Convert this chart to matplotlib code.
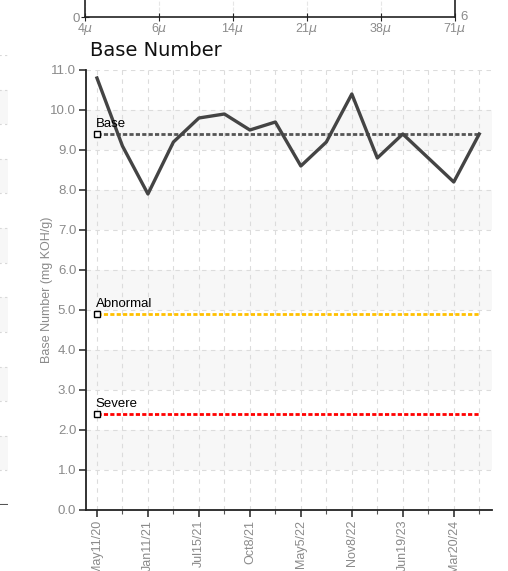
import matplotlib.pyplot as plt
import numpy as np

# data
tick_labels = ["May11/20", "Jan11/21", "Jul15/21", "Oct8/21", "May5/22", "Nov8/22", "Jun19/23", "Mar20/24"]
base_number = [10.8, 9.1, 7.9, 9.2, 9.8, 9.9, 9.5, 9.7, 8.6, 9.2, 10.4, 8.8, 9.4, 8.8, 8.2, 9.4]
limit_names = ["Base", "Abnormal", "Severe"]
limit_values = [9.4, 4.9, 2.4]
limit_colors = ["#555555", "#ffc000", "#ff0000"]
top_labels = ["4$\\mu$", "6$\\mu$", "14$\\mu$", "21$\\mu$", "38$\\mu$", "71$\\mu$"]

narrow = ["Liberation Sans", "DejaVu Sans"]
grey = "#8a8a8a"

W, H = 508, 571
fig = plt.figure(figsize=(W / 100, H / 100), dpi=100)

def box(x0, y0, x1, y1):
    return [x0 / W, 1 - y1 / H, (x1 - x0) / W, (y1 - y0) / H]

# piece of the chart above (only its bottom axis is visible)
top = fig.add_axes(box(85, -100, 455, 17))
top.set_xlim(0, len(top_labels) - 1)
top.set_ylim(0, 6)
top.set_xticks(range(len(top_labels)))
top.set_xticklabels(top_labels, color=grey, fontsize=9, family=narrow)
top.set_yticks([0])
top.set_yticklabels(["0"], color=grey, fontsize=9.5, family=narrow)
top.tick_params(axis="x", direction="inout", length=6, pad=0, color="#222222")
top.tick_params(axis="y", direction="inout", length=6, pad=1, color="#222222")
top.spines["top"].set_visible(False)
for s in ["left", "right", "bottom"]:
    top.spines[s].set_color("#222222")
    top.spines[s].set_linewidth(1.2)
top.grid(axis="x", linestyle="--", color="#e6e6e6", linewidth=0.8)
right = top.twinx()
right.set_ylim(0, 6)
right.set_yticks([0.07])
right.set_yticklabels(["6"], color=grey, fontsize=9.5, family=narrow)
right.tick_params(axis="y", direction="inout", length=0, pad=4, color="#222222")
for s in right.spines.values():
    s.set_visible(False)

# sliver of the neighbouring chart on the left
side = fig.add_axes(box(-100, 55, 8, 505))
side.set_xlim(0, 1)
side.set_ylim(0, 13)
for k in range(1, 13, 2):
    side.axhspan(k, k + 1, color="#f7f7f7", linewidth=0)
for k in range(1, 14):
    side.axhline(k, color="#d8d8d8", linestyle=(0, (2, 3)), linewidth=0.8)
side.axhline(0, color="#555555", linewidth=1.5)
side.axis("off")

# main chart
ax = fig.add_axes(box(86, 70, 492, 510))
x = np.arange(len(base_number))
ax.set_xlim(-0.43, len(base_number) - 0.5)
ax.set_ylim(0, 11)

for k in range(1, 11, 2):
    ax.axhspan(k, k + 1, color="#f7f7f7", linewidth=0, zorder=0)

ax.set_yticks(np.arange(0, 11.5, 1.0))
ax.set_yticklabels(["%.1f" % v for v in np.arange(0, 11.5, 1.0)], color=grey, fontsize=9.5, family=narrow)
ax.set_xticks(x[::2])
ax.set_xticklabels(tick_labels, rotation=90, color=grey, fontsize=9, family=narrow)
ax.set_xticks(x[1::2], minor=True)
ax.tick_params(axis="both", which="major", length=5, width=1.1, color="#222222", pad=2)
ax.tick_params(axis="x", which="minor", length=3, width=0.8, color="#555555")
ax.grid(True, which="both", linestyle=(0, (4, 4)), color="#dcdcdc", linewidth=0.8, zorder=1)
ax.set_axisbelow(True)
for s in ["top", "right"]:
    ax.spines[s].set_visible(False)
for s in ["left", "bottom"]:
    ax.spines[s].set_color("#222222")
    ax.spines[s].set_linewidth(1.3)

ax.set_ylabel("Base Number (mg KOH/g)", color=grey, fontsize=9, family=narrow)
ax.yaxis.set_label_coords(-0.082, 0.5)

for name, val, col in zip(limit_names, limit_values, limit_colors):
    ax.plot([x[0], x[-1]], [val, val], color=col, linestyle=(0, (1.5, 0.8)), linewidth=2, zorder=3)
    ax.plot([x[0]], [val], marker="s", markersize=5, markerfacecolor="white",
            markeredgecolor="black", markeredgewidth=1, zorder=5)
    ax.annotate(name, (x[0], val), xytext=(-1, 3), textcoords="offset points",
                fontsize=9.5, family=narrow, color="black", va="bottom", ha="left", zorder=6)

ax.plot(x, base_number, color="#444444", linewidth=2.4, zorder=4)

fig.text(90 / W, 1 - 56 / H, "Base Number", fontsize=14, color="#111111", va="baseline")

plt.savefig("out.png", dpi=100)
